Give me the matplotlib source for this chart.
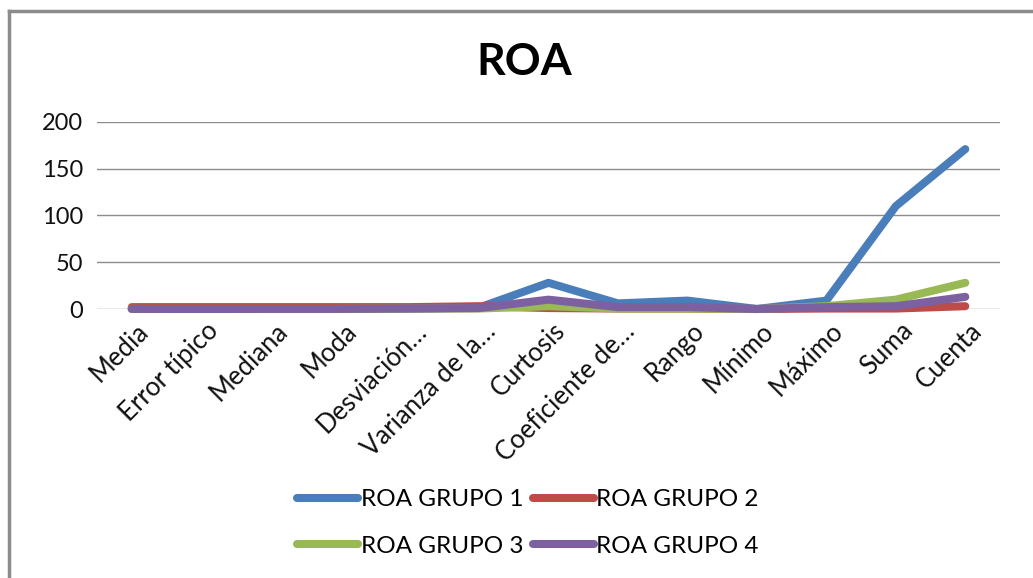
import matplotlib
matplotlib.use("Agg")
import matplotlib.pyplot as plt
from matplotlib.lines import Line2D
import matplotlib.transforms as mtransforms

categories = ["Media", "Error típico", "Mediana", "Moda", "Desviación…", "Varianza de la…",
              "Curtosis", "Coeficiente de…", "Rango", "Mínimo", "Máximo", "Suma", "Cuenta"]
grupo1 = [0.1, 0.05, 0.1, 0.1, 0.5, 1.5, 28, 6, 9, 0, 9, 110, 171]
grupo2 = [2, 2, 2, 2, 2, 3, 1, 0.5, 0.5, 0, 0.5, 0.5, 3]
grupo3 = [0.1, 0.05, 0.1, 0.1, 0.3, 0.5, 3, 0.5, 0.5, 0, 3, 10, 28]
grupo4 = [0.1, 0.05, 0.1, 0.1, 0.5, 1, 10, 2, 2, 0, 2, 3, 13]
series_names = ["ROA GRUPO 1", "ROA GRUPO 2", "ROA GRUPO 3", "ROA GRUPO 4"]
colors = ["#4A7EBB", "#BE4B48", "#98B954", "#7D60A0"]
yticks = [0, 50, 100, 150, 200]

plt.rcParams['font.family'] = ['Lato', 'DejaVu Sans']

W, H = 1033, 578
fig = plt.figure(figsize=(W / 100, H / 100), dpi=100)
ax = fig.add_axes([97 / W, 1 - 309 / H, (1000 - 97) / W, (309 - 122) / H])

x = list(range(len(categories)))
for vals, c, name in zip([grupo1, grupo2, grupo3, grupo4], colors, series_names):
    ax.plot(x, vals, color=c, lw=5.8, solid_capstyle='round', solid_joinstyle='round',
            label=name, clip_on=False)

ax.set_xlim(-0.5, len(categories) - 0.5)
ax.set_ylim(0, 200)
ax.set_yticks(yticks)
ax.set_yticklabels([str(v) for v in yticks])
ax.yaxis.grid(True, color="#8c8c8c", lw=1)
ax.set_axisbelow(True)
for s in ax.spines.values():
    s.set_visible(False)
ax.tick_params(axis='y', length=0, pad=10, labelsize=17, labelcolor="#111111")
ax.tick_params(axis='x', length=0, pad=13, labelsize=18.5, labelcolor="#111111")
ax.set_xticks(x)
ax.set_xticklabels(categories, rotation=45, ha='right', va='center', rotation_mode='anchor')
offset = mtransforms.ScaledTranslation(13 / 100, 0, fig.dpi_scale_trans)
for lab in ax.get_xticklabels():
    lab.set_transform(lab.get_transform() + offset)

fig.text(524 / W, 1 - 62 / H, "ROA", ha='center', va='center', fontsize=32, fontweight='bold')

order = [0, 2, 1, 3]
handles = [Line2D([0], [0], color=colors[i], lw=5.8, solid_capstyle='round') for i in order]
labels = [series_names[i] for i in order]
fig.legend(handles, labels, ncol=2, loc='center', bbox_to_anchor=(528 / W, 1 - 523 / H),
           frameon=False, fontsize=17.5, handlelength=2.5, handletextpad=0.1,
           columnspacing=0.4, labelspacing=1.05)

# chart border (top and left visible)
fig.add_artist(Line2D([9 / W, 1], [1 - 11 / H, 1 - 11 / H], color="#8c8c8c", lw=2.5,
                      transform=fig.transFigure))
fig.add_artist(Line2D([9 / W, 9 / W], [1 - 11 / H, 0], color="#8c8c8c", lw=2.5,
                      transform=fig.transFigure))

fig.savefig("out.png", dpi=100, facecolor="white")
